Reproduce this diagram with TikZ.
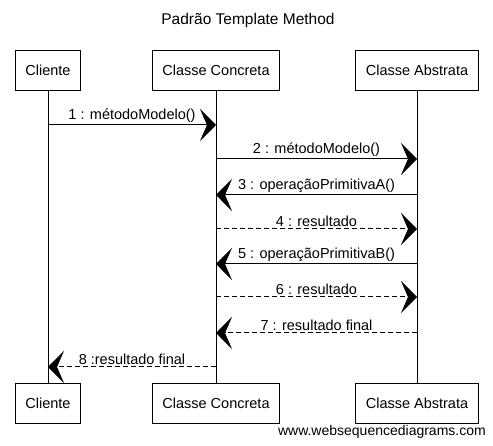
\documentclass[tikz,border=0pt]{standalone}
\usepackage{fontspec}
\setmainfont{Liberation Sans}
\usetikzlibrary{arrows.meta}

\tikzset{
	actor/.style={draw, line width=0.9pt, minimum height=40pt, inner xsep=10pt, font=\fontsize{14.5}{16}\selectfont},
	lifeline/.style={line width=0.9pt},
	msg/.style={line width=1pt, -{Stealth[length=16pt,width=32pt,inset=7pt]}},
	reply/.style={msg, dash pattern=on 5pt off 3pt},
	msglabel/.style={above, inner sep=1.5pt, font=\fontsize{14.5}{16}\selectfont}
}

\begin{document}
\begin{tikzpicture}[x=1pt,y=-1pt]
\useasboundingbox (0,0) rectangle (493,446);

% Title
\node[font=\fontsize{15.5}{17}\selectfont] (title) at (248,20) {Padrão Template Method};

% Participants (top and bottom)
\node[actor] (cliT) at (48,70) {Cliente};
\node[actor] (conT) at (216,70) {Classe Concreta};
\node[actor] (absT) at (417,70) {Classe Abstrata};
\node[actor] (cliB) at (48,403) {Cliente};
\node[actor] (conB) at (216,403) {Classe Concreta};
\node[actor] (absB) at (417,403) {Classe Abstrata};

% Lifelines
\draw[lifeline] (cliT) -- (cliB);
\draw[lifeline] (conT) -- (conB);
\draw[lifeline] (absT) -- (absB);

% Messages
\foreach \y/\src/\dst/\kind/\txt in {
	125/cliT/conT/msg/{1 : métodoModelo()},
	159/conT/absT/msg/{2 : métodoModelo()},
	195/absT/conT/msg/{3 : operaçãoPrimitivaA()},
	229/conT/absT/reply/{4 : resultado},
	264/absT/conT/msg/{5 : operaçãoPrimitivaB()},
	297/conT/absT/reply/{6 : resultado},
	333/absT/conT/reply/{7 : resultado final},
	367/conT/cliT/reply/{8 :resultado final}} {
	\draw[\kind] (\src |- 0,\y) -- (\dst |- 0,\y) node[msglabel, midway] {\txt};
}

% Footer
\node[anchor=east, inner sep=0pt, font=\fontsize{14}{16}\selectfont] (site) at (486,432) {www.websequencediagrams.com};

\end{tikzpicture}
\end{document}
